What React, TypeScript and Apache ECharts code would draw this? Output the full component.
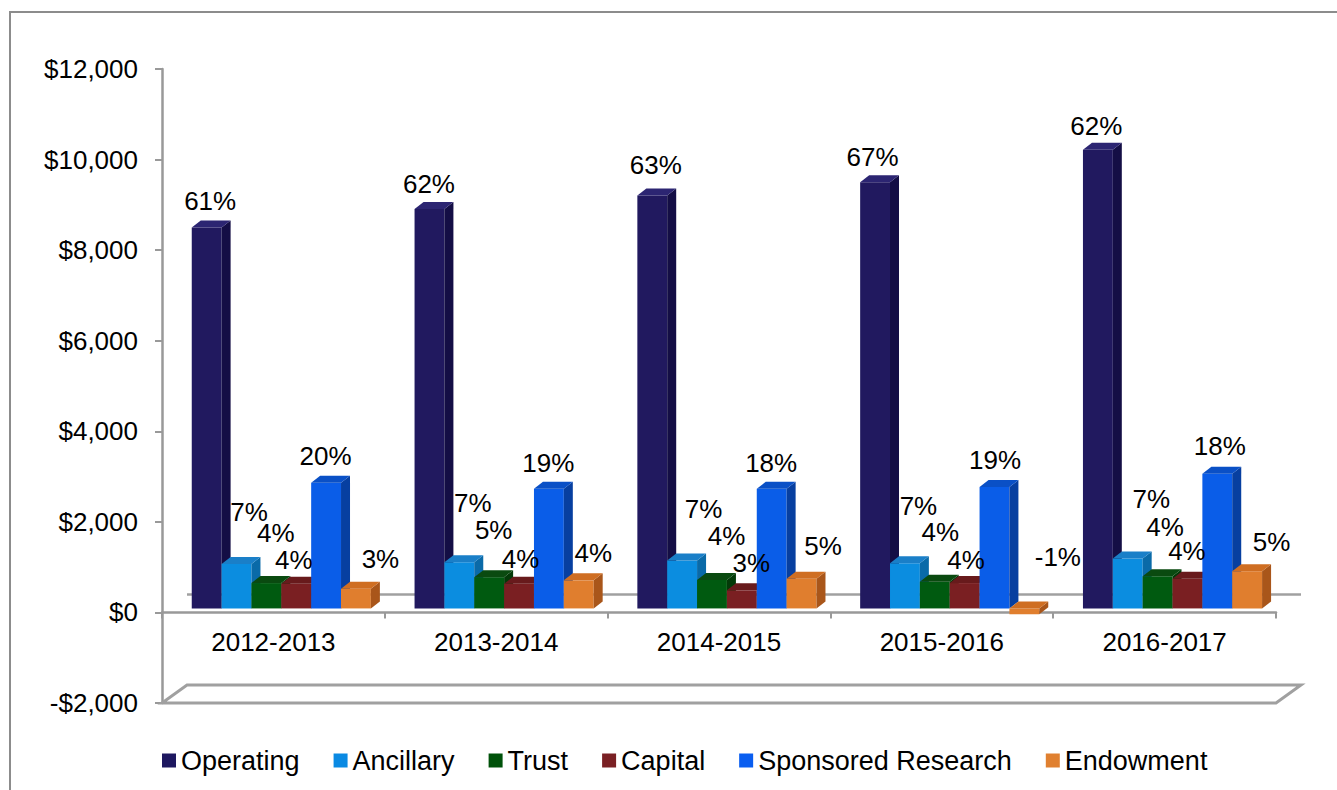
import React, { useEffect, useRef } from 'react';
import * as echarts from 'echarts';

const categories = ['2012-2013', '2013-2014', '2014-2015', '2015-2016', '2016-2017'];
const seriesNames = ['Operating', 'Ancillary', 'Trust', 'Capital', 'Sponsored Research', 'Endowment'];

const operating = [8410, 8820, 9120, 9410, 10130];
const ancillary = [980, 1020, 1060, 1000, 1100];
const trust = [560, 690, 630, 590, 710];
const capital = [545, 545, 400, 560, 655];
const sponsored = [2775, 2640, 2640, 2680, 2975];
const endowment = [435, 620, 655, -130, 820];

const operatingPct = ['61%', '62%', '63%', '67%', '62%'];
const ancillaryPct = ['7%', '7%', '7%', '7%', '7%'];
const trustPct = ['4%', '5%', '4%', '4%', '4%'];
const capitalPct = ['4%', '4%', '3%', '4%', '4%'];
const sponsoredPct = ['20%', '19%', '18%', '19%', '18%'];
const endowmentPct = ['3%', '4%', '5%', '-1%', '5%'];

const values = [operating, ancillary, trust, capital, sponsored, endowment];
const pctLabels = [operatingPct, ancillaryPct, trustPct, capitalPct, sponsoredPct, endowmentPct];

// label nudges (px) relative to the top centre of each bar
const labelOffsets = [
  [[-1, -20], [-5, -18], [-1, -23], [-7, -18], [-6, -17]],
  [[8, -45], [9, -52], [17, -44], [9, -50], [19, -53]],
  [[5, -43], [0, -40], [10, -37], [1, -43], [3, -42]],
  [[-7, -17], [-3, -18], [5, -20], [-3, -16], [-5, -21]],
  [[-5, -20], [-5, -19], [-5, -19], [-4, -20], [-2, -21]],
  [[20, -23], [10, -20], [17, -26], [29, -44], [20, -22]],
];

const legendColors = ['#1e1860', '#0a8ae3', '#00520a', '#7a2024', '#0a5ef0', '#e08030'];
const faceColors = [
  { front: '#21195f', top: '#2c2572', side: '#140e45' },
  { front: '#0b8de0', top: '#1a7fc8', side: '#0a6aa8' },
  { front: '#005a10', top: '#0a4a10', side: '#033a08' },
  { front: '#7a1f22', top: '#681a1c', side: '#551416' },
  { front: '#0a5de8', top: '#0a50c6', side: '#073fa0' },
  { front: '#e07e2e', top: '#cf6e22', side: '#a9561a' },
];

const FONT = 'Liberation Sans, Arial, sans-serif';

export default function App() {
  const ref = useRef<HTMLDivElement>(null);

  useEffect(() => {
    document.body.style.margin = '0';
    const chart = echarts.init(ref.current as HTMLDivElement, null, { renderer: 'svg' });

    const DX = 25, DY = -18; // floor depth
    const BDX = 9, BDY = -7; // bar depth
    const LIFT = 4;
    const GROUP_OFFSET = 29.7 / 222.4;
    const BAR_FRAC = 29.8 / 222.4;

    const barGeom = (api: any, cat: number, s: number, v: number) => {
      const band = api.size([1, 0])[0];
      const c = api.coord([cat, 0]);
      const left = c[0] - band / 2;
      const w = band * BAR_FRAC;
      const x0 = left + band * (GROUP_OFFSET + s * BAR_FRAC);
      const yZero = c[1] - LIFT;
      const yVal = api.coord([cat, v])[1] - LIFT;
      return { x0, w, top: Math.min(yZero, yVal), bottom: Math.max(yZero, yVal) };
    };

    const barSeries = seriesNames.map((name, s) => ({
      name,
      type: 'custom',
      coordinateSystem: 'cartesian2d',
      itemStyle: { color: legendColors[s] },
      z: 3,
      data: values[s].map((v, i) => [i, v]),
      renderItem: (params: any, api: any) => {
        const cat = api.value(0);
        const v = api.value(1);
        const g = barGeom(api, cat, s, v);
        const h = Math.max(g.bottom - g.top, 0.5);
        const fc = faceColors[s];
        const xr = g.x0 + g.w;
        return {
          type: 'group',
          children: [
            { type: 'rect', shape: { x: g.x0, y: g.top, width: g.w, height: h }, style: { fill: fc.front } },
            {
              type: 'polygon',
              shape: { points: [[xr, g.top], [xr + BDX, g.top + BDY], [xr + BDX, g.bottom + BDY], [xr, g.bottom]] },
              style: { fill: fc.side },
            },
            {
              type: 'polygon',
              shape: { points: [[g.x0, g.top], [xr, g.top], [xr + BDX, g.top + BDY], [g.x0 + BDX, g.top + BDY]] },
              style: { fill: fc.top },
            },
          ],
        };
      },
    }));

    const labelData: any[] = [];
    values.forEach((arr, s) => arr.forEach((v, i) => labelData.push([i, v, s])));

    const labelSeries = {
      type: 'custom',
      coordinateSystem: 'cartesian2d',
      z: 10,
      silent: true,
      data: labelData,
      renderItem: (params: any, api: any) => {
        const cat = api.value(0);
        const v = api.value(1);
        const s = api.value(2);
        const g = barGeom(api, cat, s, v);
        const off = labelOffsets[s][cat];
        return {
          type: 'text',
          style: {
            text: pctLabels[s][cat],
            x: g.x0 + g.w / 2 + BDX / 2 + off[0],
            y: g.top + BDY + off[1],
            fill: '#000',
            fontSize: 26,
            fontFamily: FONT,
            align: 'center',
            verticalAlign: 'middle',
          },
        };
      },
    };

    const floorSeries = {
      type: 'custom',
      coordinateSystem: 'cartesian2d',
      z: 1,
      silent: true,
      data: [[0, 0]],
      renderItem: (params: any, api: any) => {
        const cs = params.coordSys;
        const L = cs.x;
        const R = cs.x + cs.width;
        const yF = api.coord([0, -2000])[1];
        const y0 = api.coord([0, 0])[1];
        return {
          type: 'group',
          children: [
            {
              type: 'polygon',
              shape: { points: [[L, yF], [R, yF], [R + DX, yF + DY], [L + DX, yF + DY]] },
              style: { fill: 'none', stroke: '#a0a0a0', lineWidth: 3 },
            },
            {
              type: 'line',
              shape: { x1: L + DX, y1: y0 + DY, x2: R + DX, y2: y0 + DY },
              style: { stroke: '#a0a0a0', lineWidth: 2.5 },
            },
          ],
        };
      },
    };

    const fmt = (n: number) => n.toString().replace(/\B(?=(\d{3})+(?!\d))/g, ',');

    chart.setOption({
      animation: false,
      color: legendColors,
      graphic: [
        {
          type: 'rect',
          silent: true,
          shape: { x: 10, y: 12, width: 1400, height: 900 },
          style: { fill: 'none', stroke: '#8c8c8c', lineWidth: 2 },
        },
      ],
      grid: { left: 162, right: 61, top: 69, bottom: 87, containLabel: false },
      legend: {
        data: seriesNames,
        left: 162,
        top: 747,
        padding: 0,
        icon: 'rect',
        itemWidth: 14,
        itemHeight: 14,
        itemGap: 34,
        textStyle: { fontSize: 27, color: '#000', fontFamily: FONT },
      },
      xAxis: {
        type: 'category',
        data: categories,
        axisLine: { onZero: true, lineStyle: { color: '#999', width: 2.5 } },
        axisTick: { show: true, length: 6, lineStyle: { color: '#999', width: 2 } },
        axisLabel: { fontSize: 26, color: '#000', fontFamily: FONT, margin: -74 },
        splitLine: { show: false },
      },
      yAxis: {
        type: 'value',
        min: -2000,
        max: 12000,
        interval: 2000,
        axisLine: { show: true, lineStyle: { color: '#999', width: 2.5 } },
        axisTick: { show: true, length: 7, lineStyle: { color: '#999', width: 2 } },
        axisLabel: {
          fontSize: 26,
          color: '#000',
          fontFamily: FONT,
          margin: 24,
          formatter: (v: number) => (v < 0 ? '-$' + fmt(-v) : '$' + fmt(v)),
        },
        splitLine: { show: false },
      },
      series: [floorSeries, ...barSeries, labelSeries],
    });

    return () => chart.dispose();
  }, []);

  return <div ref={ref} style={{ width: 1337, height: 790 }} />;
}
